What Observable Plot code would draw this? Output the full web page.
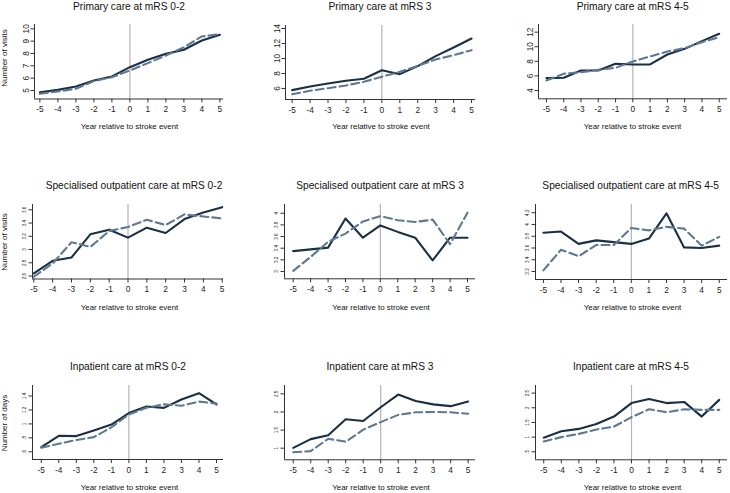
<!DOCTYPE html>
<html>
<head>
<meta charset="utf-8">
<script src="https://cdn.jsdelivr.net/npm/d3@7"></script>
<script src="https://cdn.jsdelivr.net/npm/@observablehq/plot@0.6"></script>
<style>
  html, body { margin: 0; padding: 0; background: #fff; }
  #chart { position: relative; width: 730px; height: 493px; overflow: hidden; font-family: "Liberation Sans", Arial, sans-serif; }
  .lbl { position: absolute; white-space: nowrap; line-height: 1; color: #111; transform: translate(-50%, -50%); }
  .ylab { transform: translate(-50%, -50%) rotate(-90deg); }
  svg { position: absolute; overflow: visible; }
</style>
</head>
<body>
<div id="chart"></div>
<script>
// ---------- data ----------
const years = [-5, -4, -3, -2, -1, 0, 1, 2, 3, 4, 5];

const titles = [
  "Primary care at mRS 0-2", "Primary care at mRS 3", "Primary care at mRS 4-5",
  "Specialised outpatient care at mRS 0-2", "Specialised outpatient care at mRS 3", "Specialised outpatient care at mRS 4-5",
  "Inpatient care at mRS 0-2", "Inpatient care at mRS 3", "Inpatient care at mRS 4-5"
];
const yLabels = ["Number of visits", "Number of visits", "Number of days"];
const xLabel = "Year relative to stroke event";

// solid series
const primary02Solid = [4.86, 5.05, 5.32, 5.81, 6.14, 6.89, 7.49, 7.97, 8.30, 9.05, 9.51];
const primary3Solid  = [5.78, 6.27, 6.67, 7.02, 7.29, 8.44, 7.91, 8.98, 10.31, 11.47, 12.67];
const primary45Solid = [5.69, 5.74, 6.74, 6.74, 7.66, 7.57, 7.57, 8.94, 9.71, 10.77, 11.77];
const special02Solid = [2.64, 2.83, 2.88, 3.23, 3.30, 3.18, 3.33, 3.25, 3.46, 3.56, 3.64];
const special3Solid  = [3.35, 3.38, 3.41, 3.91, 3.58, 3.79, 3.68, 3.58, 3.19, 3.58, 3.58];
const special45Solid = [3.86, 3.88, 3.67, 3.73, 3.70, 3.67, 3.76, 4.19, 3.61, 3.60, 3.64];
const inpat02Solid   = [0.667, 0.83, 0.825, 0.905, 0.99, 1.156, 1.25, 1.23, 1.35, 1.44, 1.28];
const inpat3Solid    = [1.01, 1.25, 1.36, 1.80, 1.75, 2.13, 2.48, 2.30, 2.21, 2.16, 2.29];
const inpat45Solid   = [0.98, 1.20, 1.28, 1.45, 1.70, 2.16, 2.30, 2.16, 2.20, 1.70, 2.27];

// dashed series
const primary02Dash = [4.73, 4.92, 5.14, 5.76, 6.08, 6.62, 7.22, 7.84, 8.51, 9.38, 9.57];
const primary3Dash  = [5.24, 5.69, 6.04, 6.40, 6.89, 7.56, 8.22, 9.02, 9.87, 10.44, 11.11];
const primary45Dash = [5.37, 6.29, 6.51, 6.83, 7.11, 7.98, 8.66, 9.35, 9.81, 10.63, 11.31];
const special02Dash = [2.59, 2.79, 3.11, 3.04, 3.28, 3.34, 3.45, 3.37, 3.53, 3.50, 3.47];
const special3Dash  = [3.01, 3.25, 3.51, 3.65, 3.86, 3.95, 3.88, 3.85, 3.89, 3.47, 4.01];
const special45Dash = [3.22, 3.57, 3.46, 3.65, 3.65, 3.94, 3.90, 3.96, 3.93, 3.64, 3.79];
const inpat02Dash   = [0.66, 0.715, 0.77, 0.81, 0.95, 1.135, 1.23, 1.28, 1.26, 1.32, 1.29];
const inpat3Dash    = [0.89, 0.92, 1.26, 1.18, 1.51, 1.72, 1.92, 1.99, 2.00, 1.99, 1.95];
const inpat45Dash   = [0.85, 1.00, 1.11, 1.26, 1.36, 1.68, 1.95, 1.85, 1.95, 1.93, 1.93];

// y tick values
const yTicks = [
  [5, 6, 7, 8, 9, 10], [6, 8, 10, 12, 14], [4, 6, 8, 10, 12],
  [2.6, 2.8, 3, 3.2, 3.4, 3.6], [3, 3.2, 3.4, 3.6, 3.8, 4], [3.2, 3.4, 3.6, 3.8, 4, 4.2],
  [0.6, 0.8, 1, 1.2, 1.4], [1, 1.5, 2, 2.5], [0.5, 1, 1.5, 2, 2.5]
];

const solids = [primary02Solid, primary3Solid, primary45Solid, special02Solid, special3Solid, special45Solid, inpat02Solid, inpat3Solid, inpat45Solid];
const dashes = [primary02Dash, primary3Dash, primary45Dash, special02Dash, special3Dash, special45Dash, inpat02Dash, inpat3Dash, inpat45Dash];

// ---------- layout ----------
const solidColor = "#1b2f45";
const dashColor = "#5f7893";
const colLeft = [0, 245, 490], colWidth = [245, 245, 240];
const rowTop = [10, 190, 370], rowHeight = 112;
// frame edges (page px) and domains
const frames = [
  {l: 34, r: 223, t: 24, b: 98.5, xd: [-5.3, 5.2], yd: [4.31, 10.35]},
  {l: 285, r: 475, t: 25, b: 99, xd: [-5.37, 5.22], yd: [4.53, 14.4]},
  {l: 538, r: 727, t: 24, b: 98.3, xd: [-5.46, 5.48], yd: [2.86, 13.05]},
  {l: 32, r: 223, t: 204, b: 278.5, xd: [-5.07, 5.07], yd: [2.555, 3.68]},
  {l: 284, r: 475, t: 204, b: 278.3, xd: [-5.5, 5.46], yd: [2.875, 4.15]},
  {l: 535, r: 727, t: 204, b: 279, xd: [-5.45, 5.47], yd: [3.064, 4.34]},
  {l: 32, r: 223, t: 385, b: 459, xd: [-5.5, 5.4], yd: [0.49, 1.55]},
  {l: 284, r: 475, t: 385, b: 459.3, xd: [-5.5, 5.42], yd: [0.68, 2.73]},
  {l: 535, r: 727, t: 385, b: 459.3, xd: [-5.47, 5.47], yd: [0.227, 2.76]}
];
const titlePos = [[129, 7], [380, 7], [632.7, 7], [134, 186], [380, 186], [630.7, 186], [128, 367], [380, 367], [631, 367]];
const xLabelY = [127, 307.7, 488];
const xLabelX = [129.5, 381, 632.5];
const yLabelY = [58, 241.7, 422.5];

const fmt = d => String(d).replace(/^0\./, ".");
const chart = document.getElementById("chart");

function addLabel(text, x, y, size, cls) {
  const el = document.createElement("div");
  el.className = "lbl" + (cls ? " " + cls : "");
  el.textContent = text;
  el.style.left = x + "px";
  el.style.top = y + "px";
  el.style.fontSize = size + "px";
  chart.appendChild(el);
}

for (let i = 0; i < 9; i++) {
  const row = Math.floor(i / 3), col = i % 3;
  const f = frames[i];
  const L = colLeft[col], T = rowTop[row], W = colWidth[col], H = rowHeight;
  const data = years.map((yr, k) => ({year: yr, solid: solids[i][k], dash: dashes[i][k]}));
  const yFont = row === 0 ? 8.3 : 4.6;
  const yPad = row === 0 ? 2.5 : 3.5;
  const svg = Plot.plot({
    width: W, height: H,
    marginLeft: f.l - L, marginRight: L + W - f.r,
    marginTop: f.t - T, marginBottom: T + H - f.b,
    x: {domain: f.xd, axis: null},
    y: {domain: f.yd, axis: null},
    style: {fontFamily: '"Liberation Sans", Arial, sans-serif', background: "transparent", color: "#222"},
    marks: [
      Plot.ruleX([0], {stroke: "#b4b4b4", strokeWidth: 1.2}),
      Plot.ruleX([f.xd[0]], {stroke: "#333", strokeWidth: 1}),
      Plot.ruleY([f.yd[0]], {stroke: "#333", strokeWidth: 1}),
      Plot.axisX({ticks: years, tickSize: 4, tickPadding: 3.5, fontSize: 8.3, label: null, tickFormat: d => String(d), stroke: "#333"}),
      Plot.axisY({ticks: yTicks[i], tickSize: 3.5, tickPadding: yPad, tickRotate: -90, fontSize: yFont, label: null, tickFormat: fmt, stroke: "#333"}),
      Plot.line(data, {x: "year", y: "solid", stroke: solidColor, strokeWidth: 2.1}),
      Plot.line(data, {x: "year", y: "dash", stroke: dashColor, strokeWidth: 2.1, strokeDasharray: "8,4"})
    ]
  });
  svg.style.left = L + "px";
  svg.style.top = T + "px";
  chart.appendChild(svg);

  addLabel(titles[i], titlePos[i][0], titlePos[i][1], 10.2);
  addLabel(xLabel, xLabelX[col], xLabelY[row], 7.9);
  if (col === 0) addLabel(yLabels[row], 5, yLabelY[row], 8, "ylab");
}
</script>
</body>
</html>
